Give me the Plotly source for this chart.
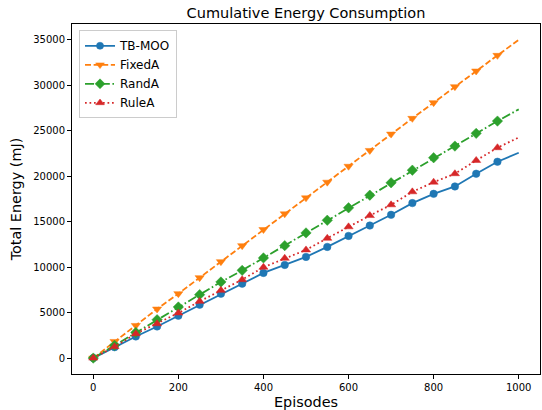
import plotly.graph_objects as go

episodes = [0, 50, 100, 150, 200, 250, 300, 350, 400, 450, 500,
            550, 600, 650, 700, 750, 800, 850, 900, 950, 1000]

tb_moo = [0, 1200, 2380, 3480, 4660, 5870, 7080, 8190, 9370, 10250, 11130,
          12230, 13440, 14580, 15760, 17050, 18070, 18880, 20280, 21600, 22590]
fixed_a = [0, 1830, 3590, 5400, 7090, 8850, 10610, 12370, 14140, 15870, 17630,
           19350, 21100, 22840, 24640, 26370, 28100, 29860, 31580, 33300, 35000]
rand_a = [0, 1400, 2820, 4220, 5620, 6980, 8370, 9650, 11020, 12370, 13770,
          15160, 16530, 17920, 19280, 20670, 22040, 23320, 24720, 26070, 27360]
rule_a = [0, 1250, 2680, 3780, 4960, 6240, 7450, 8630, 9990, 10980, 11900,
          13180, 14440, 15680, 16860, 18290, 19350, 20280, 21740, 23140, 24270]

x_ticks = [0, 200, 400, 600, 800, 1000]
y_ticks = [0, 5000, 10000, 15000, 20000, 25000, 30000, 35000]

series = [
    ("TB-MOO", tb_moo, "#1f77b4", "solid", "circle", 7.5),
    ("FixedA", fixed_a, "#ff7f0e", "6px,2.6px", "triangle-down", 8),
    ("RandA", rand_a, "#2ca02c", "9px,2.6px,1.6px,2.6px", "diamond", 8),
    ("RuleA", rule_a, "#d62728", "1.7px,2.8px", "triangle-up", 8),
]

fig = go.Figure()
for name, vals, color, dash, symbol, msize in series:
    sizes = [msize] * (len(episodes) - 1) + [0]
    fig.add_trace(go.Scatter(
        x=episodes, y=vals, name=name, mode="lines+markers",
        line=dict(color=color, width=1.8, dash=dash),
        marker=dict(symbol=symbol, size=sizes, color=color, opacity=1,
                    line=dict(width=0.5, color=color)),
        opacity=1,
    ))

font_family = "DejaVu Sans"
axis_common = dict(
    showline=True, linecolor="black", linewidth=1, mirror=True,
    ticks="outside", ticklen=4, tickwidth=1, tickcolor="black",
    showgrid=False, zeroline=False,
    tickfont=dict(family=font_family, size=10, color="black"),
)

fig.update_layout(
    width=542, height=410,
    margin=dict(l=72, r=2, t=24, b=36),
    paper_bgcolor="white", plot_bgcolor="white",
    font=dict(family=font_family, color="black"),
    title=dict(text="Cumulative Energy Consumption", x=0.5, xref="paper",
               y=0.968, yref="container", yanchor="middle",
               font=dict(family=font_family, size=14.5, color="black")),
    xaxis=dict(range=[-50, 1050], tickvals=x_ticks,
               ticktext=[str(v) for v in x_ticks],
               title=dict(text="Episodes", standoff=4,
                          font=dict(family=font_family, size=14.4)),
               **axis_common),
    yaxis=dict(range=[-1750, 36750], tickvals=y_ticks,
               ticktext=[str(v) for v in y_ticks],
               title=dict(text="Total Energy (mJ)", standoff=8,
                          font=dict(family=font_family, size=14.4)),
               **axis_common),
    legend=dict(x=0.015, y=0.982, xanchor="left", yanchor="top",
                bgcolor="rgba(255,255,255,0.8)", bordercolor="#cccccc",
                borderwidth=1, font=dict(family=font_family, size=12),
                tracegroupgap=0, itemwidth=30),
    showlegend=True,
)

fig.write_html("out.html", config={"displayModeBar": False},
               post_script="document.body.style.margin='0';")
